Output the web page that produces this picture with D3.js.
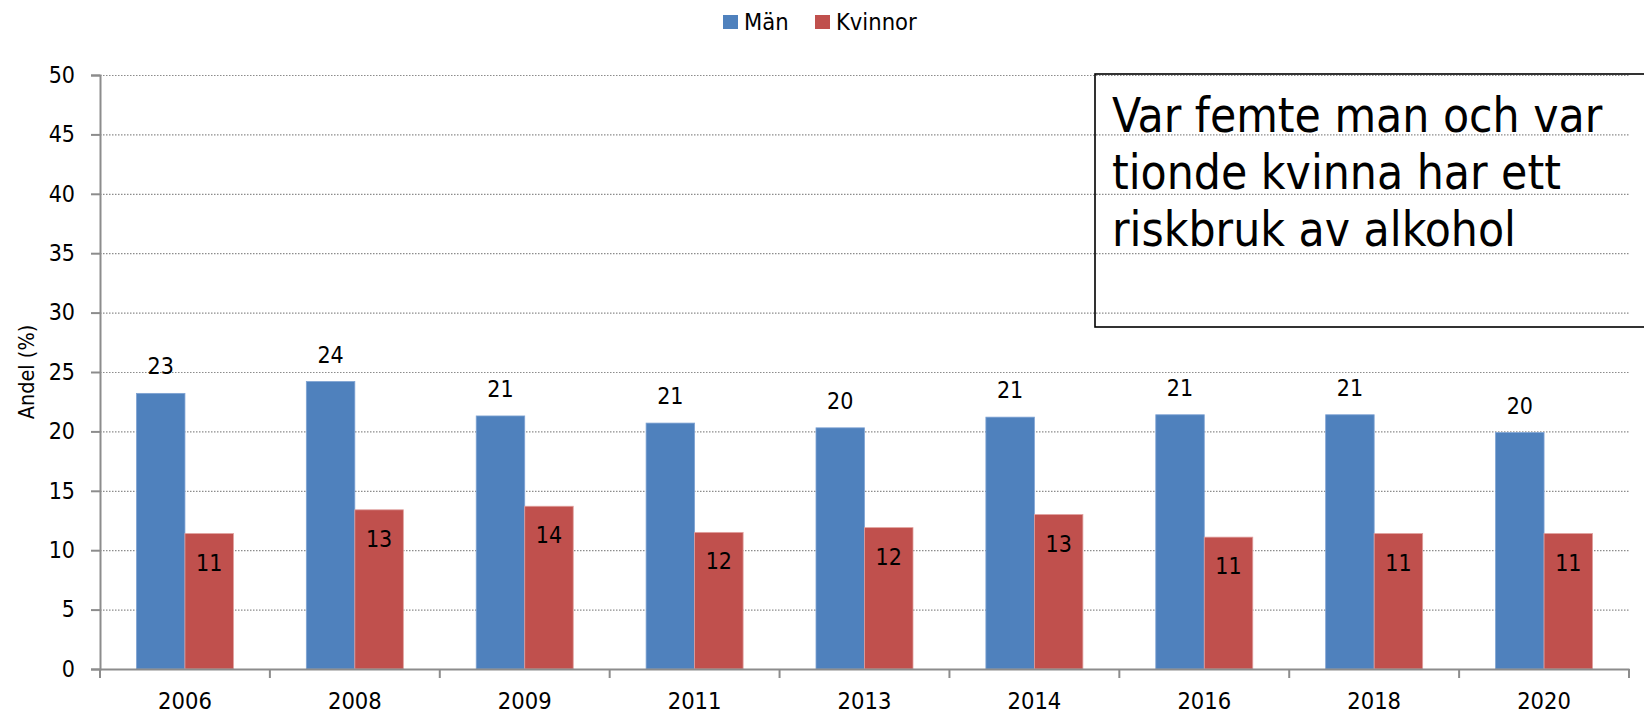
<!DOCTYPE html>
<html>
<head>
<meta charset="utf-8">
<script src="https://cdn.jsdelivr.net/npm/d3@7"></script>
<style>
  html, body { margin: 0; padding: 0; background: #fff; }
  svg { display: block; }
  text { font-family: "DejaVu Sans Condensed", "DejaVu Sans", sans-serif; font-stretch: condensed; fill: #000; }
</style>
</head>
<body>
<svg id="chart" width="1644" height="715"></svg>
<script>
const years = ["2006", "2008", "2009", "2011", "2013", "2014", "2016", "2018", "2020"];
const seriesNames = ["Män", "Kvinnor"];
const menValues = [23.2, 24.2, 21.3, 20.7, 20.3, 21.2, 21.4, 21.4, 19.9];
const womenValues = [11.4, 13.4, 13.7, 11.5, 11.9, 13.0, 11.1, 11.4, 11.4];
const menLabels = ["23", "24", "21", "21", "20", "21", "21", "21", "20"];
const womenLabels = ["11", "13", "14", "12", "12", "13", "11", "11", "11"];
const yTicks = [0, 5, 10, 15, 20, 25, 30, 35, 40, 45, 50];
const yTitle = "Andel (%)";
const boxLines = ["Var femte man och var", "tionde kvinna har ett", "riskbruk av alkohol"];
const colors = ["#4F81BD", "#C0504D"];

const svg = d3.select("#chart");
const pLeft = 100, pRight = 1629, pTop = 75, pBottom = 669;
const FONT = '"DejaVu Sans Condensed", "DejaVu Sans", sans-serif';

const x0 = d3.scaleBand().domain(years).range([pLeft, pRight]).paddingInner(0).paddingOuter(0);
const bw = x0.bandwidth();
const x1 = d3.scaleBand().domain(seriesNames).range([bw * 0.2145, bw * 0.7855]).padding(0);
const y = d3.scaleLinear().domain([0, 50]).range([pBottom, pTop]);

// gridlines
svg.append("g").selectAll("line").data(yTicks.filter(d => d > 0)).join("line")
  .attr("x1", pLeft).attr("x2", pRight + 1)
  .attr("y1", d => y(d) + 0.5).attr("y2", d => y(d) + 0.5)
  .attr("stroke", "#8c8c8c").attr("stroke-width", 1.2)
  .attr("stroke-dasharray", "1.5,1.5");

// bars
const data = years.map((yr, i) => ({ year: yr, vals: [
  { s: seriesNames[0], v: menValues[i], label: menLabels[i], c: colors[0] },
  { s: seriesNames[1], v: womenValues[i], label: womenLabels[i], c: colors[1] }
]}));

const groups = svg.append("g").selectAll("g").data(data).join("g")
  .attr("transform", d => `translate(${x0(d.year)},0)`);

groups.selectAll("rect").data(d => d.vals).join("rect")
  .attr("x", d => x1(d.s))
  .attr("y", d => y(d.v))
  .attr("width", x1.bandwidth())
  .attr("height", d => y(0) - y(d.v))
  .attr("fill", d => d.c)
  .attr("stroke", (d, i) => i === 0 ? "#7fa3d3" : "#e0a09e")
  .attr("stroke-width", 0.8);

// labels
groups.selectAll("text.lbl").data(d => d.vals).join("text")
  .attr("class", "lbl")
  .attr("x", d => x1(d.s) + x1.bandwidth() / 2)
  .attr("y", (d, i) => i === 0 ? y(d.v) - 19 : y(d.v) + 37)
  .attr("text-anchor", "middle")
  .attr("font-size", 23)
  .text(d => d.label);

// y axis
const yAxis = d3.axisLeft(y).tickValues(yTicks).tickSize(9).tickPadding(16);
const gy = svg.append("g").attr("transform", `translate(${pLeft},0)`).call(yAxis);
gy.select(".domain").attr("stroke", "#8c8c8c").attr("stroke-width", 2);
gy.selectAll(".tick line").attr("stroke", "#8c8c8c").attr("stroke-width", 2);
gy.selectAll(".tick text").attr("font-size", 23).attr("fill", "#000").style("font-family", FONT);

// x axis
const xAxis = d3.axisBottom(x0).tickSize(0).tickPadding(23.5);
const gx = svg.append("g").attr("transform", `translate(0,${pBottom})`).call(xAxis);
gx.select(".domain").attr("stroke", "#8c8c8c").attr("stroke-width", 2);
gx.selectAll(".tick text").attr("font-size", 23.5).attr("fill", "#000").style("font-family", FONT);
// category separator ticks
const sepTicks = years.map(yr => x0(yr)).concat([x0(years[years.length - 1]) + bw]);
gx.append("g").selectAll("line").data(sepTicks).join("line")
  .attr("x1", d => d).attr("x2", d => d)
  .attr("y1", 0).attr("y2", 9)
  .attr("stroke", "#8c8c8c").attr("stroke-width", 2);

// y title
svg.append("text")
  .attr("transform", `translate(34,${(pTop + pBottom) / 2}) rotate(-90)`)
  .attr("text-anchor", "middle")
  .attr("font-size", 21.5)
  .text(yTitle);

// legend
const legend = svg.append("g");
const legendItems = [{ name: seriesNames[0], x: 723 }, { name: seriesNames[1], x: 815 }];
legendItems.forEach((it, i) => {
  legend.append("rect").attr("x", it.x).attr("y", 15).attr("width", 15).attr("height", 14).attr("fill", colors[i]);
  legend.append("text").attr("x", it.x + 21).attr("y", 29.5).attr("font-size", 23.5).text(it.name);
});

// text box
svg.append("rect")
  .attr("x", 1095).attr("y", 74).attr("width", 600).attr("height", 253)
  .attr("fill", "none").attr("stroke", "#000").attr("stroke-width", 1.6);
const tb = svg.append("text").attr("font-size", 47.5);
boxLines.forEach((ln, i) => {
  tb.append("tspan").attr("x", 1112).attr("y", 131.5 + i * 57).text(ln);
});
</script>
</body>
</html>
